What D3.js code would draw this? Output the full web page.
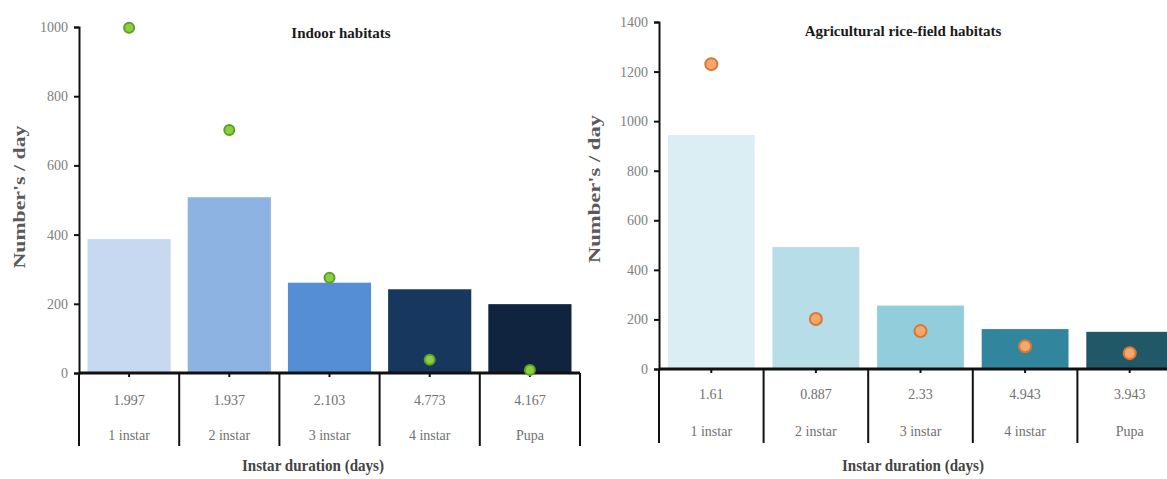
<!DOCTYPE html>
<html>
<head>
<meta charset="utf-8">
<script src="https://cdn.jsdelivr.net/npm/d3@7"></script>
<style>
  html, body { margin: 0; padding: 0; background: #fff; }
  svg { display: block; }
  text { font-family: "Liberation Serif", "Times New Roman", serif; }
</style>
</head>
<body>
<svg id="chart" width="1167" height="479"></svg>
<script>
// ---------- DATA ----------
const categories = ["1 instar", "2 instar", "3 instar", "4 instar", "Pupa"];

const indoorDurations = ["1.997", "1.937", "2.103", "4.773", "4.167"];
const indoorBars = [387, 508, 261, 242, 199];
const indoorDots = [998, 702, 275, 38, 9];
const indoorTicks = [0, 200, 400, 600, 800, 1000];
const indoorColors = ["#c6d9f0", "#8db3e2", "#558ed5", "#17375e", "#10243f"];

const riceDurations = ["1.61", "0.887", "2.33", "4.943", "3.943"];
const riceBars = [944, 492, 256, 161, 150];
const riceDots = [1230, 202, 153, 92, 64];
const riceTicks = [0, 200, 400, 600, 800, 1000, 1200, 1400];
const riceColors = ["#dbeef3", "#b7dde8", "#92cddc", "#31859c", "#215867"];

const titles = ["Indoor habitats", "Agricultural rice-field habitats"];
const yTitle = "Number's / day";
const xTitle = "Instar duration (days)";

// ---------- DRAW ----------
const svg = d3.select("#chart");

function panel(cfg) {
  const g = svg.append("g");
  const y = d3.scaleLinear().domain([0, cfg.yMax]).range([cfg.y0, cfg.yTop]);
  const xCat = d3.scaleBand().domain(categories).range([cfg.x0, cfg.x1]);
  const xBar = d3.scaleBand().domain(categories).range([cfg.x0, cfg.x1])
    .paddingInner(0.17).paddingOuter(0.085);

  // bars
  g.selectAll("rect.bar").data(categories).enter().append("rect")
    .attr("class", "bar")
    .attr("x", d => xBar(d))
    .attr("width", xBar.bandwidth())
    .attr("y", (d, i) => y(cfg.bars[i]))
    .attr("height", (d, i) => y(0) - y(cfg.bars[i]))
    .attr("fill", (d, i) => cfg.colors[i]);

  // y axis
  const ya = g.append("g")
    .attr("transform", `translate(${cfg.x0},0)`)
    .call(d3.axisLeft(y).tickValues(cfg.ticks).tickSize(5).tickPadding(6).tickFormat(d3.format("d")));
  ya.select(".domain").attr("stroke", "#111").attr("stroke-width", 2);
  ya.selectAll(".tick line").attr("stroke", "#111").attr("stroke-width", 2);
  ya.selectAll(".tick text").attr("fill", "#808080").style("font-size", "14px")
    .style("font-family", "'Liberation Serif', serif");

  // x axis line with centre ticks
  const xa = g.append("g")
    .attr("transform", `translate(0,${cfg.y0})`)
    .call(d3.axisBottom(xCat).tickSize(4).tickFormat(""));
  xa.select(".domain").attr("stroke", "#111").attr("stroke-width", 3).attr("d", `M${cfg.x0},0H${cfg.x1}`);
  xa.selectAll(".tick line").attr("stroke", "#111").attr("stroke-width", 2);

  // category separators
  const seps = categories.map(c => xCat(c)).concat([cfg.x1]);
  g.selectAll("line.sep").data(seps).enter().append("line")
    .attr("class", "sep")
    .attr("x1", d => d).attr("x2", d => d)
    .attr("y1", cfg.y0).attr("y2", cfg.sepBottom)
    .attr("stroke", "#111").attr("stroke-width", 2);

  // duration labels
  g.selectAll("text.dur").data(categories).enter().append("text")
    .attr("class", "dur")
    .attr("x", d => xCat(d) + xCat.bandwidth() / 2)
    .attr("y", cfg.durY)
    .attr("text-anchor", "middle")
    .attr("fill", "#707070")
    .style("font-size", "14px")
    .text((d, i) => cfg.durations[i]);

  // category names
  g.selectAll("text.cat").data(categories).enter().append("text")
    .attr("class", "cat")
    .attr("x", d => xCat(d) + xCat.bandwidth() / 2)
    .attr("y", cfg.catY)
    .attr("text-anchor", "middle")
    .attr("fill", "#707070")
    .style("font-size", "14px")
    .text(d => d);

  // dots
  g.selectAll("circle.dot").data(categories).enter().append("circle")
    .attr("class", "dot")
    .attr("cx", d => xCat(d) + xCat.bandwidth() / 2)
    .attr("cy", (d, i) => y(cfg.dots[i]))
    .attr("r", cfg.dotR)
    .attr("fill", cfg.dotFill)
    .attr("stroke", cfg.dotStroke)
    .attr("stroke-width", 2);

  // title
  g.append("text")
    .attr("x", cfg.titleX).attr("y", cfg.titleY)
    .attr("text-anchor", "middle")
    .attr("fill", "#1a1a1a")
    .style("font-size", "15px").style("font-weight", "bold")
    .text(cfg.title);

  // y title
  g.append("text")
    .attr("transform", `translate(${cfg.yTitleX},${cfg.yTitleY}) rotate(-90)`)
    .attr("text-anchor", "middle")
    .attr("fill", "#5a5a5a")
    .attr("textLength", cfg.yTitleLen)
    .attr("lengthAdjust", "spacingAndGlyphs")
    .style("font-size", "17px").style("font-weight", "bold")
    .text(yTitle);

  // x title
  g.append("text")
    .attr("x", cfg.xTitleX).attr("y", cfg.xTitleY)
    .attr("text-anchor", "middle")
    .attr("fill", "#444")
    .attr("textLength", 142)
    .attr("lengthAdjust", "spacingAndGlyphs")
    .style("font-size", "16px").style("font-weight", "bold")
    .text(xTitle);
}

panel({
  yMax: 1000, y0: 373, yTop: 27, x0: 79, x1: 580, sepBottom: 446,
  bars: indoorBars, dots: indoorDots, colors: indoorColors, ticks: indoorTicks,
  durations: indoorDurations, durY: 405, catY: 440,
  dotR: 5, dotFill: "#8ccf3c", dotStroke: "#5f9e2a",
  title: titles[0], titleX: 341, titleY: 38,
  yTitleX: 25, yTitleY: 197, yTitleLen: 143, xTitleX: 313, xTitleY: 471
});

panel({
  yMax: 1400, y0: 369, yTop: 22, x0: 659, x1: 1182, sepBottom: 443,
  bars: riceBars, dots: riceDots, colors: riceColors, ticks: riceTicks,
  durations: riceDurations, durY: 399, catY: 436,
  dotR: 6, dotFill: "#f5a86a", dotStroke: "#d9773a",
  title: titles[1], titleX: 903, titleY: 36,
  yTitleX: 600, yTitleY: 189, yTitleLen: 148, xTitleX: 913, xTitleY: 471
});
</script>
</body>
</html>
